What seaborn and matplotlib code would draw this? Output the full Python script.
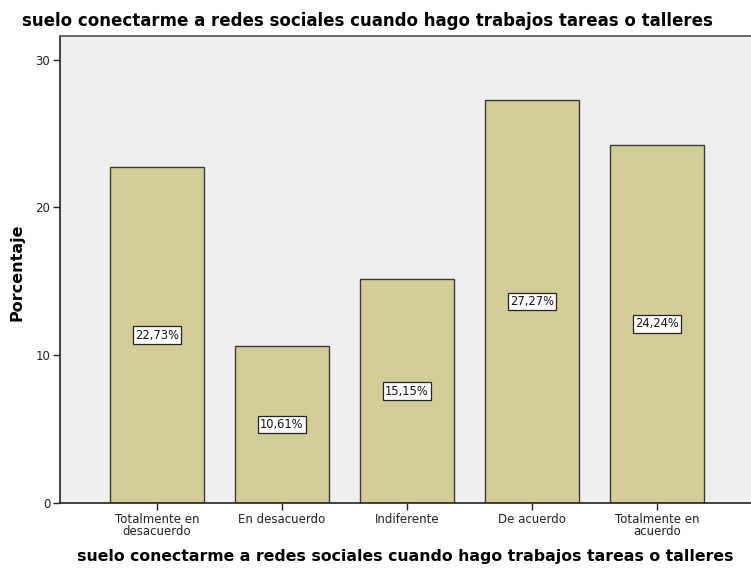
import matplotlib
matplotlib.use("Agg")
import matplotlib.pyplot as plt
import pandas as pd
import seaborn as sns

# === Data ===
CATEGORIES = ["Totalmente en\ndesacuerdo", "En desacuerdo", "Indiferente",
              "De acuerdo", "Totalmente en\nacuerdo"]
PERCENTS = [22.73, 10.61, 15.15, 27.27, 24.24]
Y_TICKS = [0, 10, 20, 30]
TITLE = "suelo conectarme a redes sociales cuando hago trabajos tareas o talleres"

BAR_COLOR = "#D3CE98"
BG_COLOR = "#EFEFEF"


def draw_chart():
    df = pd.DataFrame({"categoria": CATEGORIES, "porcentaje": PERCENTS})

    sns.set_style("white")
    plt.rcParams["font.family"] = ["DejaVu Sans"]

    fig = plt.figure(figsize=(7.51, 5.69), dpi=100)
    ax = fig.add_axes([0.0799, 0.116, 0.9201, 0.8207])
    ax.set_facecolor(BG_COLOR)

    sns.barplot(data=df, x="categoria", y="porcentaje", order=CATEGORIES,
                color=BAR_COLOR, width=0.75, edgecolor="#3a3a3a",
                linewidth=1.0, saturation=1, errorbar=None, ax=ax)

    # value labels in the middle of each bar
    for p, val in zip(ax.patches, PERCENTS):
        ax.text(p.get_x() + p.get_width() / 2, p.get_height() / 2,
                f"{val:.2f}%".replace(".", ","), ha="center", va="center",
                fontsize=8.3, color="#111111",
                bbox=dict(boxstyle="square,pad=0.2", facecolor="white",
                          edgecolor="#222222", linewidth=0.9))

    ax.set_xlim(-0.776, 4.752)
    ax.set_ylim(0, 31.6)
    ax.set_yticks(Y_TICKS)
    ax.tick_params(axis="both", direction="out", length=5, width=1,
                   color="#222222", labelsize=8.5, labelcolor="#222222",
                   left=True, bottom=True, pad=2)
    for lbl in ax.get_xticklabels():
        lbl.set_linespacing(0.95)

    for side in ["left", "bottom", "top"]:
        ax.spines[side].set_visible(True)
        ax.spines[side].set_color("#555555")
        ax.spines[side].set_linewidth(1.2)
    ax.spines["left"].set_color("#222222")
    ax.spines["bottom"].set_color("#222222")
    ax.spines["right"].set_visible(False)

    ax.set_ylabel("Porcentaje", fontsize=11.5, fontweight="bold", color="black")
    ax.yaxis.set_label_coords(-0.051, 0.495)
    ax.set_xlabel(TITLE, fontsize=11.35, fontweight="bold", labelpad=8,
                  color="black")
    fig.text(0.0293, 0.963, TITLE, fontsize=12, fontweight="bold",
             ha="left", va="center", color="black")

    fig.savefig("out.png", dpi=100, facecolor="white")


if __name__ == "__main__":
    draw_chart()
